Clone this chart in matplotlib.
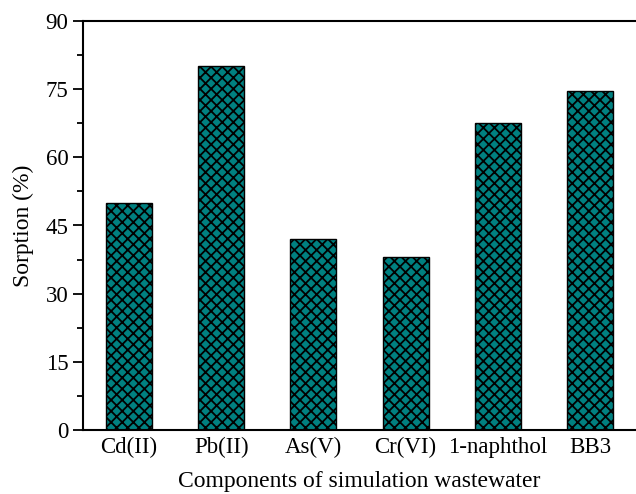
import matplotlib
matplotlib.use('Agg')
import matplotlib.pyplot as plt
from matplotlib.ticker import MultipleLocator

# --- Data --------------------------------------------------------------------

components = ['Cd(II)', 'Pb(II)', 'As(V)', 'Cr(VI)', '1-naphthol', 'BB3']
sorption = [50.0, 80.0, 42.0, 38.0, 67.5, 74.5]

# --- Plot --------------------------------------------------------------------

plt.rcParams['font.family'] = ['Liberation Serif', 'DejaVu Serif']
plt.rcParams['hatch.linewidth'] = 1.3
plt.rcParams['hatch.color'] = 'black'

fig = plt.figure(figsize=(6.36, 4.94), dpi=100)
ax = fig.add_axes([83 / 636, 1 - 430 / 494, (636 - 83) / 636, (430 - 21) / 494])

x = list(range(1, len(components) + 1))
ax.bar(x, sorption, width=0.5, color='#008080', edgecolor='black',
       linewidth=1.0, hatch='xxx')

ax.set_xlim(0.5, 6.5)
ax.set_ylim(0, 90)
ax.yaxis.set_major_locator(MultipleLocator(15))
ax.yaxis.set_minor_locator(MultipleLocator(7.5))
ax.set_xticks(x)
ax.set_xticklabels(components)

ax.tick_params(axis='y', which='major', direction='out', length=7, width=1.3, labelsize=16.5)
ax.tick_params(axis='y', which='minor', direction='out', length=4, width=1.3)
ax.tick_params(axis='x', which='major', length=0, labelsize=16.5, pad=5)

for side in ['left', 'top', 'bottom']:
    ax.spines[side].set_linewidth(1.5)
ax.spines['right'].set_visible(False)

ax.set_ylabel('Sorption (%)', fontsize=17, labelpad=8)
ax.set_xlabel('Components of simulation wastewater', fontsize=17, labelpad=9)

fig.savefig('out.png', dpi=100)
